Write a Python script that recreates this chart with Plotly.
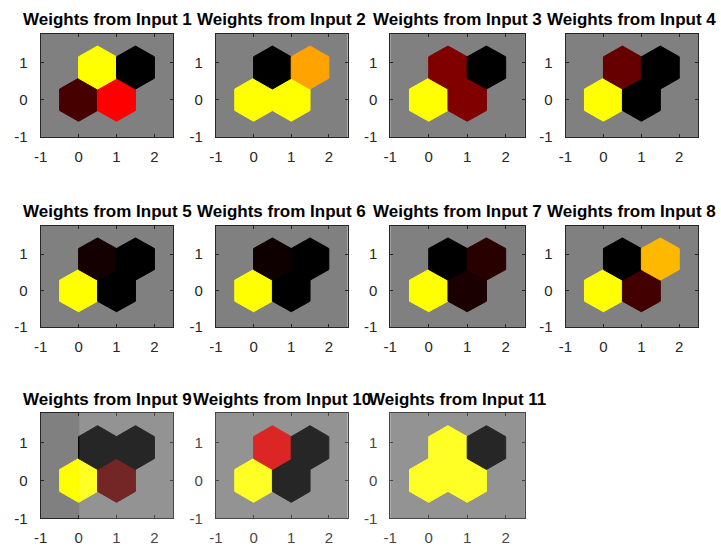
import math
import plotly.graph_objects as go
from plotly.colors import sample_colorscale

# ---- data ----
neuron_x = [0.0, 1.0, 0.5, 1.5]
neuron_y = [0.0, 0.0, 0.866, 0.866]

titles = [f"Weights from Input {i}" for i in range(1, 12)]

w1 = [0.14, 0.50, 1.00, 0.00]
w2 = [1.00, 1.00, 0.00, 0.82]
w3 = [1.00, 0.25, 0.25, 0.00]
w4 = [1.00, 0.00, 0.20, 0.00]
w5 = [1.00, 0.00, 0.04, 0.00]
w6 = [1.00, 0.00, 0.03, 0.00]
w7 = [1.00, 0.05, 0.00, 0.08]
w8 = [1.00, 0.13, 0.00, 0.86]
w9 = [1.00, 0.18, 0.00, 0.00]
w10 = [1.00, 0.00, 0.42, 0.00]
w11 = [1.00, 1.00, 1.00, 0.00]
weights = [w1, w2, w3, w4, w5, w6, w7, w8, w9, w10, w11]

x_ticks = [-1, 0, 1, 2]
y_ticks = [-1, 0, 1]

colorscale = [[0.0, "rgb(0,0,0)"], [0.5, "rgb(255,0,0)"], [1.0, "rgb(255,255,0)"]]

# ---- layout geometry (pixels in the 721x551 window) ----
W, H = 721, 551
col_px = [(34, 168), (211, 344), (387, 523), (564, 698)]
row_px = [(34, 139), (229, 332), (419, 526)]
title_y_px = [20, 215, 405]

def fx(px):
    return px / W

def fy(py):
    return 1 - py / H

R = 1 / math.sqrt(3)  # hexagon circumradius (pointy-top)
angles = [math.radians(90 + 60 * k) for k in range(7)]

fig = go.Figure()
layout_axes = {}
annotations = []
FONT = "Liberation Sans, Arial, Helvetica, sans-serif"

for i, (title, w) in enumerate(zip(titles, weights)):
    r, c = divmod(i, 4)
    n = i + 1
    xa = "x" if n == 1 else f"x{n}"
    ya = "y" if n == 1 else f"y{n}"
    cols = sample_colorscale(colorscale, w)
    for cx, cy, col in zip(neuron_x, neuron_y, cols):
        hx = [cx + R * math.cos(a) for a in angles]
        hy = [cy + R * math.sin(a) for a in angles]
        fig.add_trace(go.Scatter(
            x=hx, y=hy, mode="lines", fill="toself", fillcolor=col,
            line=dict(width=1, color=col), hoverinfo="skip", showlegend=False,
            xaxis=xa, yaxis=ya))
    x0, x1 = col_px[c]
    y0, y1 = row_px[r]
    axis_common = dict(
        showgrid=False, zeroline=False, showline=True, mirror="ticks",
        linecolor="#262626", linewidth=1, ticks="inside", ticklen=3,
        tickcolor="#262626", tickfont=dict(family=FONT, size=15, color="#262626"),
        fixedrange=True)
    layout_axes["xaxis" if n == 1 else f"xaxis{n}"] = dict(
        axis_common, domain=[fx(x0), fx(x1)], range=[-1, 2.5],
        tickvals=x_ticks, ticktext=[str(t) for t in x_ticks],
        anchor=ya, ticklabelstandoff=6)
    layout_axes["yaxis" if n == 1 else f"yaxis{n}"] = dict(
        axis_common, domain=[fy(y1), fy(y0)], range=[-1, 1.78],
        tickvals=y_ticks, ticktext=[str(t) for t in y_ticks],
        anchor=xa, ticklabelstandoff=9)
    annotations.append(dict(
        text=f"<b>{title}</b>", x=fx((x0 + x1) / 2), y=fy(title_y_px[r]),
        xref="paper", yref="paper", xanchor="center", yanchor="middle",
        showarrow=False, font=dict(family=FONT, size=17, color="#000000")))

fig.update_layout(
    width=W, height=H, margin=dict(l=0, r=0, t=0, b=0),
    paper_bgcolor="white", plot_bgcolor="rgb(128,128,128)",
    annotations=annotations, showlegend=False,
    shapes=[dict(type="rect", xref="paper", yref="paper",
                 x0=fx(73), x1=fx(545), y0=0, y1=fy(385),
                 fillcolor="white", opacity=0.15, line=dict(width=0), layer="above")],
    **layout_axes)

fig.write_html(
    "out.html",
    config={"displayModeBar": False},
    post_script="document.body.style.margin='0';document.body.style.overflow='hidden';",
)
